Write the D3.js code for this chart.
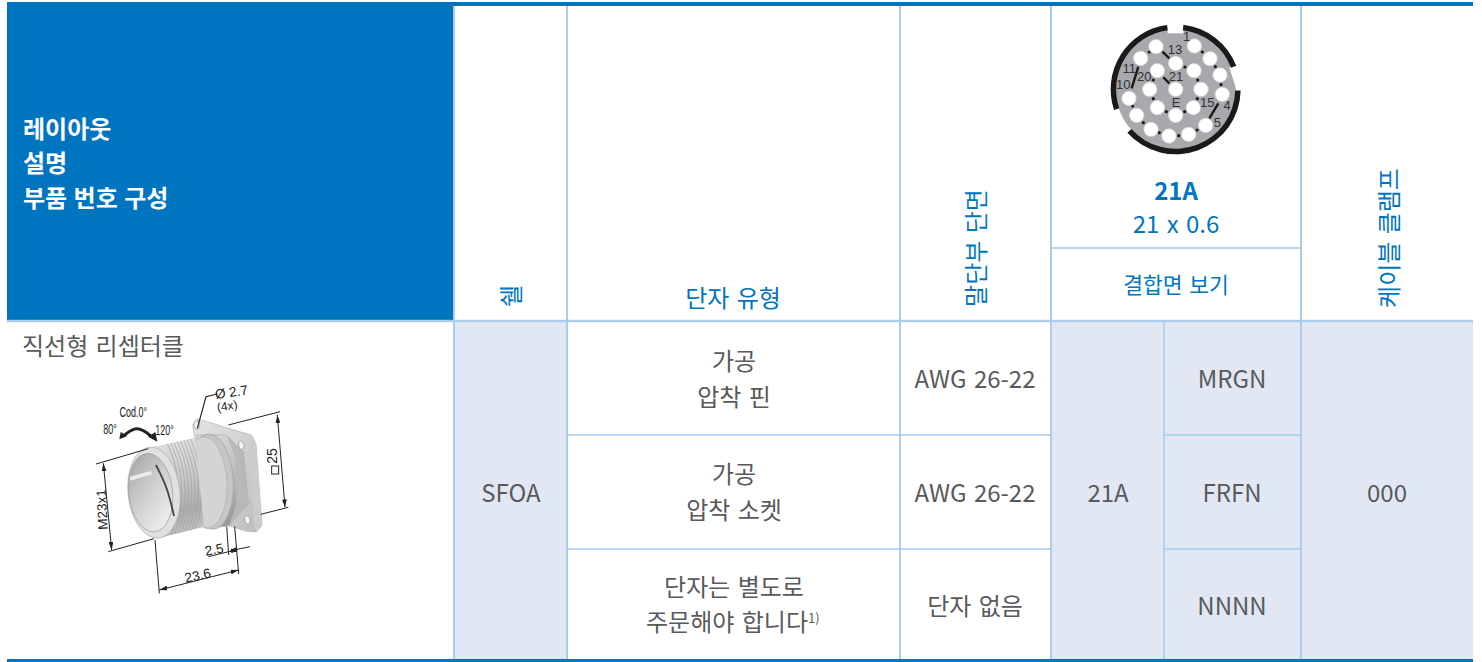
<!DOCTYPE html>
<meta charset="utf-8">
<style>
    html, body { margin: 0; background: #fff; }
    svg { display: block; }
    text { font-family: "Noto Sans CJK KR", "Noto Sans", sans-serif; font-size: 24px; dominant-baseline: central; word-spacing: 2px; }
    .dim text { font-family: "Liberation Sans", sans-serif; fill: #222; dominant-baseline: auto; word-spacing: 0; }
</style>
<script src="https://d3js.org/d3.v7.min.js"></script>
<div id="chart"></div>
<script>
    // table content
    const headerTitle = ["레이아웃", "설명", "부품 번호 구성"];
    const columns = ["start", "title", "shell", "contact", "section", "code", "part", "clamp", "end"];
    const rowNames = ["top", "subhead", "head", "r1", "r2", "r3"];
    const contactLines = [["가공", "압착 핀"], ["가공", "압착 소켓"], ["단자는 별도로", "주문해야 합니다"]];
    const sectionValues = ["AWG 26-22", "AWG 26-22", "단자 없음"];
    const partValues = ["MRGN", "FRFN", "NNNN"];
    const shellValue = "SFOA", layoutValue = "21A", clampValue = "000";

    // contact face, in units of the zoomed crop
    const outerPins = [[313,138],[360,176],[390,225],[397,283],[347,376],[296,403],[237,408],[183,388],[140,346],[117,295],[152,175],[198,140]];
    const middlePins = [[257,190],[312,212],[333,268],[310,323],[257,346],[202,323],[179,268],[202,212]];
    const centrePins = [[257,268]];
    const pinLabels = [["1",290,108],["13",255,148],["11",118,205],["10",100,253],["20",163,230],["21",258,228],["E",258,307],["15",352,307],["4",411,317],["5",382,367]];
    const pinDots = [[337,156],[376,200],[393,254],[285,201],[323,240],[322,296],[284,335],[229,335],[190,296],[190,240],[178,156],[128,318],[160,368],[208,398],[266,407],[321,390]];
    const pinBars = [[217,155,238,175],[220,232,238,250],[145,200,125,265],[385,310,358,355]];

    var x = d3.scaleOrdinal(columns, [7, 454, 567, 900, 1051, 1164, 1301, 1473, 1473]);
    var y = d3.scaleOrdinal(rowNames, [6, 248, 321, 435, 549, 660]);
    var px = d3.scaleLinear().domain([0, 540]).range([1090, 1270]);
    var py = d3.scaleLinear().domain([0, 510]).range([0, 170]);
    // the connector drawing is measured in a 720 wide crop
    var cx = d3.scaleLinear().domain([0, 720]).range([80, 320]);
    var cy = d3.scaleLinear().domain([0, 720]).range([370, 610]);

    const BLUE = "#0075bf", LINE = "#a9cdea", FILL = "#e1e8f4", GREY = "#595a5c";

    var svg = d3.select("#chart").append("svg").attr("width", 1482).attr("height", 662);

    function rect(x0, y0, x1, y1, fill) {
        svg.append("rect").attr("x", x0).attr("y", y0).attr("width", x1 - x0).attr("height", y1 - y0).attr("fill", fill);
    }
    function label(txt, tx, ty, color, opts) {
        opts = opts || {};
        var t = svg.append("text").attr("x", tx).attr("y", ty).attr("fill", color)
            .attr("text-anchor", opts.anchor || "middle").attr("font-weight", opts.weight || 400).text(txt);
        if (opts.rotate) t.attr("transform", "rotate(-90 " + tx + " " + ty + ")");
        if (opts.size) t.style("font-size", opts.size + "px");
        if (opts.weight) t.style("word-spacing", "1px");
        return t;
    }

    // blue header block and shaded cells
    rect(x("start"), y("top") - 4, x("title"), y("head"), BLUE);
    rect(x("title"), y("head"), x("shell"), y("r3"), FILL);
    rect(x("section"), y("head"), x("clamp"), y("r3"), FILL);

    // grid lines
    function gridV(col, y0, y1) { rect(x(col) - 1, y0, x(col) + 1, y1, LINE); }
    function gridH(x0, x1, row, h) { rect(x0, y(row) - h / 2, x1, y(row) + h / 2, LINE); }
    gridH(x("start"), x("clamp"), "head", 2.4);
    gridH(x("shell"), x("section"), "r1", 1.6);
    gridH(x("shell"), x("section"), "r2", 1.6);
    gridH(x("code"), x("part"), "r1", 1.6);
    gridH(x("code"), x("part"), "r2", 1.6);
    gridH(x("section"), x("part"), "subhead", 1.6);
    ["title", "shell", "contact", "section", "part"].forEach(function (c) { gridV(c, y("top"), y("r3")); });
    rect(x("code") - 0.8, y("head"), x("code") + 0.8, y("r3"), LINE);

    // top and bottom rules
    rect(x("start"), 2, x("clamp"), 6, BLUE);
    rect(x("start"), 659, x("clamp"), 662, BLUE);

    // header block text
    headerTitle.forEach(function (d, i) {
        label(d, 23, 127 + i * 34.5, "#fff", { anchor: "start", weight: 700 });
    });

    // column headers
    label("쉘", 509, 296, BLUE, { rotate: true });
    label("단자 유형", 733, 296, BLUE);
    label("말단부 단면", 974, 248, BLUE, { rotate: true });
    label("케이블 클램프", 1387, 238, BLUE, { rotate: true });
    label("21A", 1176, 189, BLUE, { weight: 700 });
    label("21 x 0.6", 1176, 222, BLUE);
    label("결합면 보기", 1176, 283, BLUE, { size: 21.5 });

    // body text
    label("직선형 리셉터클", 22, 344, GREY, { anchor: "start" });
    label(shellValue, 511, 491, GREY);
    label(layoutValue, 1108, 491, GREY);
    label(clampValue, 1387, 491, GREY);
    contactLines.forEach(function (lines, i) {
        label(lines[0], 734, [359, 472, 585][i], GREY);
        label(lines[1], i == 2 ? 727 : 734, [395, 508, 620][i], GREY);
    });
    svg.append("text").attr("x", 808).attr("y", 617).attr("fill", GREY).style("font-size", "13px").text("1)");
    sectionValues.forEach(function (d, i) { label(d, 975, [377, 491, 604][i], GREY); });
    partValues.forEach(function (d, i) { label(d, 1232, [377, 491, 604][i], GREY); });

    // contact face
    var face = svg.append("g");
    face.append("circle").attr("cx", px(257)).attr("cy", py(268)).attr("r", 60).attr("fill", "#a7a9ac");
    // keyways in the body
    [[[233,70],[280,70],[280,100],[233,100]],
     [[418,203],[470,190],[470,270],[440,270]],
     [[60,325],[80,335],[118,395],[100,430],[50,400]]].forEach(function (p) {
        face.append("polygon").attr("fill", "#fff")
            .attr("points", p.map(function (d) { return px(d[0]) + "," + py(d[1]); }).join(" "));
    });
    // guide arcs, clockwise from north in radians
    var arc = d3.arc().innerRadius(59.5).outerRadius(65);
    [[0.12, 1.2], [1.59, 3.98], [4.39, 6.15]].forEach(function (a) {
        face.append("path").attr("fill", "#1a1a1a")
            .attr("transform", "translate(" + px(257) + "," + py(268) + ")")
            .attr("d", arc({ startAngle: a[0], endAngle: a[1] }));
    });
    pinBars.forEach(function (b) {
        face.append("line").attr("x1", px(b[0])).attr("y1", py(b[1])).attr("x2", px(b[2])).attr("y2", py(b[3]))
            .attr("stroke", "#1a1a1a").attr("stroke-width", 2.4);
    });
    face.selectAll(".dot").data(pinDots).enter().append("circle").attr("class", "dot")
        .attr("cx", function (d) { return px(d[0]); }).attr("cy", function (d) { return py(d[1]); })
        .attr("r", 1.6).attr("fill", "#1a1a1a");
    face.selectAll(".pin").data(outerPins.concat(middlePins, centrePins)).enter().append("circle").attr("class", "pin")
        .attr("cx", function (d) { return px(d[0]); }).attr("cy", function (d) { return py(d[1]); })
        .attr("r", 7.2).attr("fill", "#fff").attr("stroke", "#d6d6d8").attr("stroke-width", 0.8);
    face.selectAll(".num").data(pinLabels).enter().append("text").attr("class", "num")
        .attr("x", function (d) { return px(d[1]); }).attr("y", function (d) { return py(d[2]); })
        .attr("text-anchor", "middle").attr("fill", "#333")
        .style("font-family", "Liberation Sans").style("font-size", "13px")
        .text(function (d) { return d[0]; });

    // connector drawing
    var defs = svg.append("defs");
    function gradient(id, stops, x2, y2) {
        var g = defs.append("linearGradient").attr("id", id).attr("x1", 0).attr("y1", 0).attr("x2", x2).attr("y2", y2);
        stops.forEach(function (s) { g.append("stop").attr("offset", s[0]).attr("stop-color", s[1]); });
    }
    gradient("barrel", [[0, "#e4e4e4"], [0.45, "#cbcbcb"], [0.8, "#acacac"], [1, "#c0c0c0"]], 0.15, 1);
    gradient("hex", [[0, "#dadada"], [0.5, "#c2c2c2"], [1, "#9c9c9c"]], 0.3, 1);
    gradient("flange", [[0, "#e4e4e4"], [1, "#bcbcbc"]], 1, 1);
    gradient("bore", [[0, "#9e9e9e"], [0.5, "#cbcbcb"], [1, "#ececec"]], 0.6, 1);

    var part = svg.append("g");
    var line = d3.line().x(function (d) { return cx(d[0]); }).y(function (d) { return cy(d[1]); });
    var smooth = d3.line().x(function (d) { return cx(d[0]); }).y(function (d) { return cy(d[1]); }).curve(d3.curveBasis);
    function poly(pts, fill, stroke) {
        part.append("path").attr("d", line(pts) + "Z").attr("fill", fill).attr("stroke", stroke || "none").attr("stroke-width", 0.6);
    }
    function ell(c0, c1, rx, ry, rot, fill, stroke, sw) {
        part.append("ellipse").attr("cx", 0).attr("cy", 0).attr("rx", rx / 3).attr("ry", ry / 3)
            .attr("transform", "translate(" + cx(c0) + "," + cy(c1) + ") rotate(" + rot + ")")
            .attr("fill", fill).attr("stroke", stroke || "none").attr("stroke-width", sw || 0.6);
    }
    // flange plate
    poly([[338,165],[352,146],[515,196],[528,222],[546,465],[530,486],[500,484],[432,462],[345,210]], "url(#flange)", "#aaa");
    poly([[515,196],[528,222],[546,465],[530,486],[522,470],[505,225]], "#cccccc");
    [[350,165],[484,226],[502,450]].forEach(function (h) { ell(h[0], h[1], 8, 13, -10, "#f4f4f4", "#888"); });
    // hex body
    poly([[350,195],[435,195],[490,245],[505,400],[445,468],[375,475]], "url(#hex)", "#a8a8a8");
    poly([[440,195],[490,245],[505,400],[448,466],[470,400],[465,260]], "#b8b8b8");
    // collar rings
    ell(392, 335, 68, 143, -3, "#c6c6c6", "#9c9c9c");
    ell(376, 337, 65, 137, -3, "#d4d4d4", "#a8a8a8");
    // threaded barrel
    poly([[215,232],[345,203],[372,470],[235,505]], "url(#barrel)");
    defs.append("clipPath").attr("id", "barrelClip").append("path")
        .attr("d", line([[215,232],[345,203],[372,470],[235,505]]) + "Z");
    [262, 272, 282, 292, 302, 312, 322, 332].forEach(function (tx) {
        var k = tx - 215;
        part.append("path").attr("fill", "none").attr("stroke", "#a0a0a0").attr("stroke-width", 0.7)
            .attr("clip-path", "url(#barrelClip)")
            .attr("d", smooth([[tx, 232 - k * 0.22], [tx + 34, 300], [tx + 34, 420], [tx + 12, 505 - k * 0.22]]));
    });
    // front opening
    ell(222, 368, 78, 137, -6, "#e0e0e0", "#a8a8a8");
    ell(212, 368, 66, 118, -6, "url(#bore)", "#8e8e8e");
    poly([[150,320],[212,303],[216,313],[150,332]], "#ececec");
    part.append("path").attr("fill", "none").attr("stroke", "#444").attr("stroke-width", 1.8)
        .attr("d", smooth([[228,285],[258,345],[272,395],[282,438]]));

    // dimension lines
    var dim = svg.append("g").attr("class", "dim");
    defs.append("marker").attr("id", "head").attr("viewBox", "0 0 10 6").attr("refX", 10).attr("refY", 3)
        .attr("markerWidth", 8).attr("markerHeight", 5).attr("markerUnits", "userSpaceOnUse").attr("orient", "auto-start-reverse")
        .append("path").attr("d", "M0,0L10,3L0,6Z").attr("fill", "#222");
    function dl(a, b, c, d, arrows) {
        var l = dim.append("line").attr("x1", cx(a)).attr("y1", cy(b)).attr("x2", cx(c)).attr("y2", cy(d))
            .attr("stroke", "#222").attr("stroke-width", 1);
        if (arrows) l.attr("marker-start", "url(#head)").attr("marker-end", "url(#head)");
    }
    function dt(txt, a, b, rot, size, sx) {
        dim.append("text").attr("transform", "translate(" + cx(a) + "," + cy(b) + ") rotate(" + rot + ") scale(" + (sx || 1) + ",1)")
            .attr("text-anchor", "middle").style("font-size", size + "px").text(txt);
    }
    dl(48, 282, 205, 236);
    dl(85, 545, 222, 506);
    dl(70, 280, 95, 540, true);
    dl(445, 165, 600, 125);
    dl(542, 433, 625, 412);
    dl(592, 135, 615, 412, true);
    dl(225, 510, 238, 670);
    dl(440, 470, 446, 555);
    dl(464, 470, 476, 612);
    dl(238, 660, 476, 600, true);
    dl(385, 560, 446, 545);
    dl(476, 537, 510, 530);
    dl(446, 545, 476, 537, true);
    dim.append("path").attr("fill", "none").attr("stroke", "#222").attr("stroke-width", 1.2)
        .attr("d", line([[352,175],[378,80],[412,72]]));
    dt("Ø 2.7", 456, 80, -8, 13.5);
    dt("(4x)", 443, 120, -8, 12);
    dt("25", 592, 258, -90, 14);
    dim.append("rect").attr("x", cx(575)).attr("y", cy(288)).attr("width", 7).attr("height", 8).attr("fill", "none").attr("stroke", "#222");
    dt("M23x1", 80, 418, -93, 13.5);
    dt("2.5", 405, 552, -10, 13.5);
    dt("23.6", 356, 630, -12, 13.5);
    dt("Cod.0°", 160, 142, 0, 15, 0.6);
    dt("80°", 90, 192, 0, 15, 0.6);
    dt("120°", 254, 196, 0, 15, 0.6);
    // coding rotation arrow
    dim.append("path").attr("fill", "none").attr("stroke", "#222").attr("stroke-width", 3)
        .attr("d", smooth([[130,198],[172,165],[215,200]]));
    dim.append("path").attr("fill", "#222").attr("d", line([[118,208],[122,186],[142,198]]) + "Z");
    dim.append("path").attr("fill", "#222").attr("d", line([[232,215],[204,200],[226,186]]) + "Z");
</script>
